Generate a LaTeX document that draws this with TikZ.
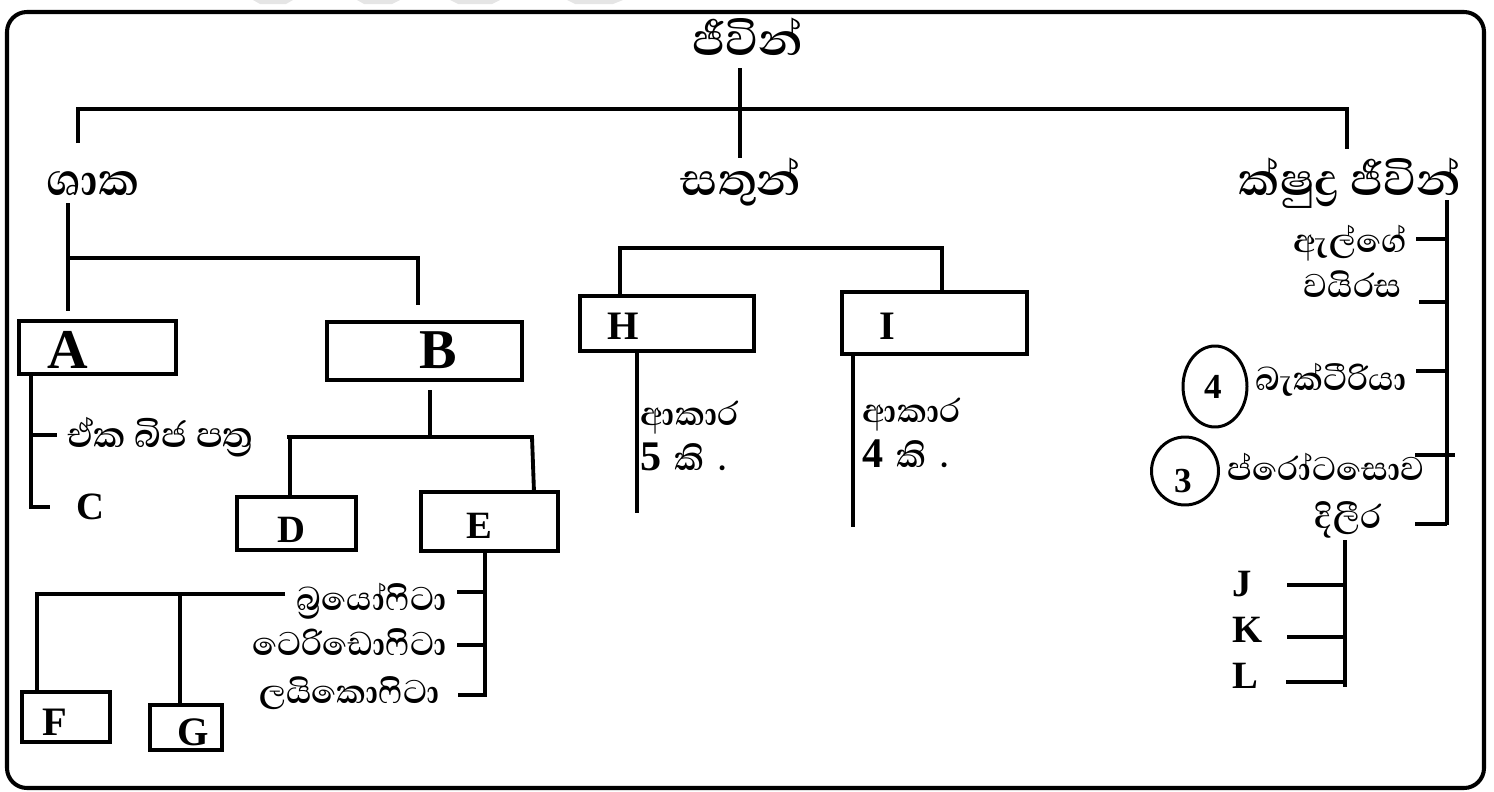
\documentclass[tikz,border=0pt]{standalone}
\usepackage{fontspec}
\setmainfont{Liberation Serif}
\newfontfamily\sinhfont[Script=Sinhala]{Abhaya Libre}
\usetikzlibrary{fit,shapes.geometric}
\begin{document}
\begin{tikzpicture}[x=0.02cm,y=-0.02cm,
  ln/.style={line width=2.2pt},
  box/.style={draw, line width=2.3pt, inner sep=0pt, rectangle},
  hd/.style={font=\sinhfont\bfseries\fontsize{33}{35}\selectfont, inner sep=0pt, anchor=base},
  md/.style={font=\sinhfont\bfseries\fontsize{24}{26}\selectfont, inner sep=0pt},
  lt/.style={font=\bfseries\fontsize{#1}{#1}\selectfont, inner sep=0pt, anchor=base},
  ring/.style={draw, ellipse, line width=1.7pt, inner sep=0pt}
]
\useasboundingbox (0,0) rectangle (1494,791);
% faint marks at the top edge
\fill[gray!20] (253,0) -- (293,0) -- (286,4) -- (260,4) -- cycle;
\fill[gray!20] (357,0) -- (400,0) -- (392,4) -- (364,4) -- cycle;
\fill[gray!20] (450,0) -- (500,0) -- (492,4) -- (458,4) -- cycle;
\fill[gray!20] (567,0) -- (623,0) -- (613,4) -- (575,4) -- cycle;
% outer frame
\draw[line width=2.3pt, rounded corners=0.4cm] (7,12) rectangle (1484,788);

% headings
\node[hd] (jivin) at (748,55) {ජීවින්};
\node[hd] (shaka) at (93,195) {ශාක};
\node[hd] (satun) at (741,195) {සතුන්};
\node[hd] (kshudra) at (1350,195) {ක්ෂුද්^^^^200dර ජීවින්};

% boxes
\node[box, fit={(19,321) (176,374)}] (Abox) {};
\node[box, fit={(327,322) (522,380)}] (Bbox) {};
\node[box, fit={(237,497) (356,550)}] (Dbox) {};
\node[box, fit={(421,492) (558,551)}] (Ebox) {};
\node[box, fit={(580,296) (754,351)}] (Hbox) {};
\node[box, fit={(842,292) (1027,354)}] (Ibox) {};
\node[box, fit={(22,692) (110,742)}] (Fbox) {};
\node[box, fit={(150,705) (222,750)}] (Gbox) {};

% letters
\node[lt=32] (A) at (68,368) {A};
\node[lt=32] (B) at (438,368) {B};
\node[lt=22] (D) at (291,542) {D};
\node[lt=22] (E) at (479,538) {E};
\node[lt=23] (H) at (623,339) {H};
\node[lt=23] (I) at (887,339) {I};
\node[lt=22] (C) at (90,519) {C};
\node[lt=23] (F) at (55,735) {F};
\node[lt=23] (G) at (193,745) {G};
\node[lt=22, anchor=base west] (J) at (1232,596) {J};
\node[lt=22, anchor=base west] (K) at (1232,642) {K};
\node[lt=22, anchor=base west] (L) at (1232,688) {L};

% medium texts
\node[md, anchor=base west, font=\sinhfont\bfseries\fontsize{26}{28}\selectfont] (ekabija) at (67,447) {ඒක බිජ පත්^^^^200dර};
\node[md, anchor=base west] (akaraH) at (640,425) {ආකාර};
\node[md, anchor=base west] (fiveki) at (640,470) {{\normalfont\bfseries 5}\hspace{0.12em} කි\hspace{0.15em} .};
\node[md, anchor=base west] (akaraI) at (862,422) {ආකාර};
\node[md, anchor=base west] (fourki) at (862,467) {{\normalfont\bfseries 4}\hspace{0.12em} කි\hspace{0.15em} .};
\node[md, anchor=base east] (algae) at (1407,252) {ඇල්ගේ};
\node[md, anchor=base east] (virus) at (1402,297) {වයිරස};
\node[md, anchor=base east] (bact) at (1407,390) {බැක්ටීරියා};
\node[md, anchor=base east] (proto) at (1425,480) {ප්රෝටසොව};
\node[md, anchor=base] (fungi) at (1348,528) {දිලීර};
\node[md, anchor=base east] (bryo) at (447,610) {බ්^^^^200dරයෝෆිටා};
\node[md, anchor=base east] (pteri) at (447,655) {ටෙරිඩොෆිටා};
\node[md, anchor=base east] (lyco) at (440,703) {ලයිකොෆිටා};

% circled numbers
\node[ring, minimum width=1.28cm, minimum height=1.62cm] (c4) at (1215,386.5) {};
\node[lt=20] (n4) at (1213,398) {4};
\node[ring, minimum width=1.34cm, minimum height=1.36cm] (c3) at (1185,471) {};
\node[lt=20] (n3) at (1183,492) {3};

% junction coordinates
\coordinate (t1) at (740,68);   \coordinate (t2) at (740,158);
\coordinate (hl) at (78,109);   \coordinate (hr) at (1347,109);
\coordinate (hl2) at (78,143);  \coordinate (hr2) at (1347,149);
\coordinate (s1) at (68,203);   \coordinate (s2) at (68,258);
\coordinate (s3) at (418,258);  \coordinate (s4) at (418,305);
\coordinate (s5) at (68,311);
\coordinate (a1) at (31,374);   \coordinate (a2) at (31,435);
\coordinate (a3) at (31,507);   \coordinate (a4) at (57,435);
\coordinate (a5) at (50,507);
\coordinate (b1) at (430,390);  \coordinate (b2) at (430,437);
\coordinate (b3) at (287,437);  \coordinate (b4) at (532,437);
\coordinate (b5) at (290,437);  \coordinate (b6) at (290,497);
\coordinate (b7) at (534,492);
\coordinate (e1) at (485,551);  \coordinate (e2) at (485,697);
\coordinate (e3) at (457,592);  \coordinate (e4) at (457,645);
\coordinate (e5) at (458,695);
\coordinate (f1) at (285,594);  \coordinate (f2) at (37,594);
\coordinate (f3) at (37,692);   \coordinate (f4) at (180,594);
\coordinate (f5) at (180,705);
\coordinate (h1) at (620,296);  \coordinate (h2) at (620,248);
\coordinate (h3) at (942,248);  \coordinate (h4) at (942,292);
\coordinate (h5) at (637,351);  \coordinate (h6) at (637,513);
\coordinate (i5) at (853,354);  \coordinate (i6) at (853,527);
\coordinate (k1) at (1447,200); \coordinate (k2) at (1447,525);
\coordinate (m1) at (1345,540); \coordinate (m2) at (1345,687);

% connectors
\draw[ln] (t1) -- (t2);
\draw[ln] (hl2) -- (hl) -- (hr) -- (hr2);
\draw[ln] (s1) -- (s5);
\draw[ln] (s2) -- (s3) -- (s4);
\draw[ln] (a1) -- (a3) -- (a5);
\draw[ln] (a2) -- (a4);
\draw[ln] (b1) -- (b2);
\draw[ln] (b3) -- (b4) -- (b7);
\draw[ln] (b5) -- (b6);
\draw[ln] (e1) -- (e2);
\draw[ln] (e3) -- (e3 -| e1);
\draw[ln] (e4) -- (e4 -| e1);
\draw[ln] (e5) -- (e5 -| e1);
\draw[ln] (f1) -- (f2) -- (f3);
\draw[ln] (f4) -- (f5);
\draw[ln] (h1) -- (h2) -- (h3) -- (h4);
\draw[ln] (h5) -- (h6);
\draw[ln] (i5) -- (i6);
\draw[ln] (k1) -- (k2);
\draw[ln] (1416,239) -- (1447,239);
\draw[ln] (1419,302) -- (1447,302);
\draw[ln] (1416,371) -- (1447,371);
\draw[ln] (1415,455) -- (1455,455);
\draw[ln] (1415,524) -- (1447,524);
\draw[ln] (m1) -- (m2);
\draw[ln] (1287,585) -- (1345,585);
\draw[ln] (1287,637) -- (1345,637);
\draw[ln] (1286,682) -- (1345,682);
\end{tikzpicture}
\end{document}
